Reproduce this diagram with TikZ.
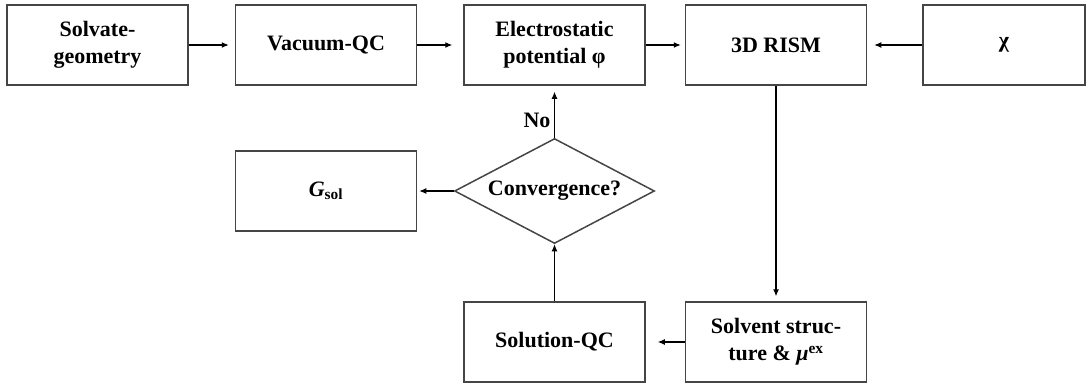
\documentclass[tikz,border=0pt]{standalone}
\usepackage{fontspec}
\setmainfont{Liberation Serif}
\usetikzlibrary{shapes.geometric,arrows.meta}
\definecolor{boxline}{HTML}{454545}
\begin{document}
\begin{tikzpicture}[x=1pt,y=-1pt,
  font=\fontsize{22}{27}\selectfont\bfseries,
  box/.style={draw=boxline,line width=1.5pt,rectangle,minimum width=181pt,minimum height=80pt,inner sep=0pt,align=center},
  dia/.style={draw=boxline,line width=1.5pt,diamond,aspect=2,minimum width=200pt,minimum height=105pt,inner sep=0pt},
  arr/.style={draw=black,line width=1.1pt,-{Latex[length=7pt,width=6pt]}}]
\useasboundingbox (0,0) rectangle (1091,388);
\node[box] (geo) at (97.5,45) {Solvate-\\geometry};
\node[box] (vac) at (326,45) {Vacuum-QC};
\node[box] (esp) at (554.5,45) {Electrostatic\\potential φ};
\node[box] (rism) at (776,45) {3D RISM};
\node[box,minimum width=162pt] (chi) at (1004,45) {χ};
\node[box] (gsol) at (326,191) {\textit{G}\textsubscript{sol}};
\node[dia] (conv) at (554.5,191) {Convergence?};
\node[box] (sqc) at (554.5,342) {Solution-QC};
\node[box] (solv) at (776,342) {Solvent struc-\\ture \& \textit{μ}\textsuperscript{ex}};
\node (no) at (537,120) {No};
\draw[arr,shorten >=6pt] (geo.east) -- (vac.west);
\draw[arr,shorten >=11pt] (vac.east) -- (esp.west);
\draw[arr,shorten >=4pt] (esp.east) -- (rism.west);
\draw[arr,shorten >=7pt] (chi.west) -- (rism.east);
\draw[arr,shorten >=5pt] (rism.south) -- (solv.north);
\draw[arr,shorten >=12pt] (solv.west) -- (sqc.east);
\draw[arr] (sqc.north) -- (conv.south);
\draw[arr,shorten >=6pt] (conv.north) -- (esp.south);
\draw[arr,shorten >=2pt] (conv.west) -- (gsol.east);
\end{tikzpicture}
\end{document}
